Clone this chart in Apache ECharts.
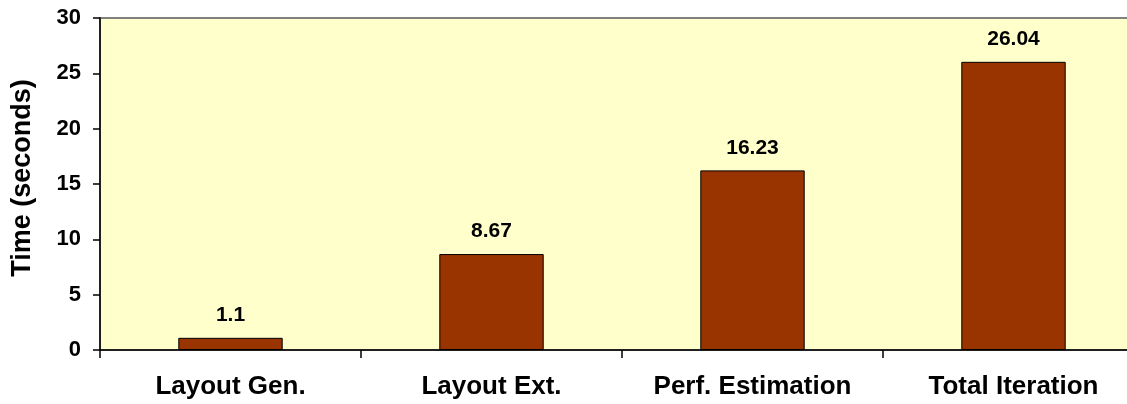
<!DOCTYPE html>
<html>
<head>
<meta charset="utf-8">
<script src="https://cdn.jsdelivr.net/npm/echarts@6/dist/echarts.min.js"></script>
<style>
  html, body { margin: 0; padding: 0; background: #ffffff; }
  #chart { width: 1127px; height: 404px; }
</style>
</head>
<body>
<div id="chart"></div>
<script>
// Timing breakdown of one iteration
const categories = ['Layout Gen.', 'Layout Ext.', 'Perf. Estimation', 'Total Iteration'];
const timeSeconds = [1.1, 8.67, 16.23, 26.04];
const yTicks = [0, 5, 10, 15, 20, 25, 30];

const chart = echarts.init(document.getElementById('chart'), null, { renderer: 'canvas' });

const font = '"Liberation Sans", Arial, sans-serif';

chart.setOption({
  animation: false,
  backgroundColor: '#ffffff',
  grid: {
    left: 100,
    top: 18,
    width: 1044,
    height: 332,
    outerBoundsMode: 'none',
    containLabel: false,
    show: true,
    backgroundColor: '#ffffcc',
    borderColor: '#808080',
    borderWidth: 2
  },
  xAxis: {
    type: 'category',
    data: categories,
    axisLine: { lineStyle: { color: '#000000', width: 1.5 } },
    axisTick: { show: true, length: 8, lineStyle: { color: '#000000', width: 1.5 } },
    axisLabel: {
      color: '#000000',
      fontFamily: font,
      fontWeight: 'bold',
      fontSize: 26,
      margin: 24
    },
    splitLine: { show: false }
  },
  yAxis: {
    type: 'value',
    min: yTicks[0],
    max: yTicks[yTicks.length - 1],
    interval: 5,
    name: 'Time (seconds)',
    nameLocation: 'middle',
    nameRotate: 90,
    nameGap: 64,
    nameTextStyle: {
      color: '#000000',
      fontFamily: font,
      fontWeight: 'bold',
      fontSize: 27,
      padding: [0, 0, 0, 12]
    },
    axisLine: { show: true, lineStyle: { color: '#000000', width: 1.5 } },
    axisTick: { show: true, length: 7, lineStyle: { color: '#000000', width: 1.5 } },
    axisLabel: {
      color: '#000000',
      fontFamily: font,
      fontWeight: 'bold',
      fontSize: 22,
      margin: 19
    },
    splitLine: { show: false }
  },
  series: [{
    type: 'bar',
    data: timeSeconds,
    barWidth: '40%',
    itemStyle: {
      color: '#993300',
      borderColor: '#000000',
      borderWidth: 1
    },
    label: {
      show: true,
      position: 'top',
      distance: 12,
      color: '#000000',
      fontFamily: font,
      fontWeight: 'bold',
      fontSize: 21
    }
  }]
});
</script>
</body>
</html>
